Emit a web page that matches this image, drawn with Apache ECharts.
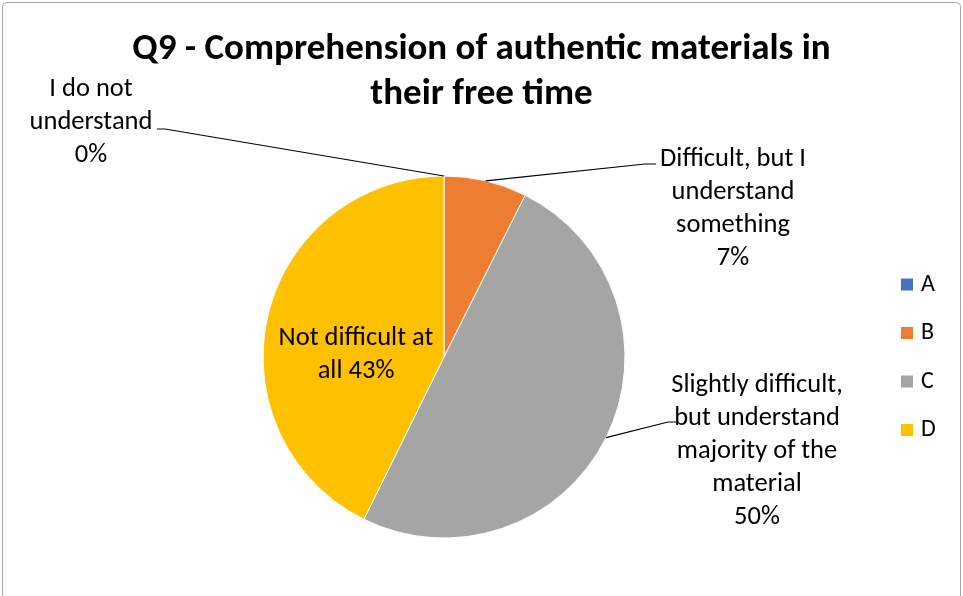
<!DOCTYPE html>
<html>
<head>
<meta charset="utf-8">
<script src="https://cdn.jsdelivr.net/npm/echarts@6/dist/echarts.min.js"></script>
<style>
html,body{margin:0;padding:0;background:#fff;}
#c{width:963px;height:596px;}
</style>
</head>
<body>
<div id="c"></div>
<script>
var categories = ['A', 'B', 'C', 'D'];
var labelNames = ['I do not\nunderstand', 'Difficult, but I\nunderstand\nsomething', 'Slightly difficult,\nbut understand\nmajority of the\nmaterial', 'Not difficult at\nall'];
var values = [0, 7.4, 49.9, 42.7];
var colors = ['#4472C4', '#ED7D31', '#A5A5A5', '#FFC000'];
var titleText = 'Q9 - Comprehension of authentic materials in\ntheir free time';

var FONT = 'Carlito, Lato, "Liberation Sans", sans-serif';
var CENTER = [444, 357];
var RADIUS = 181;
// label layout (positions only)
var labelPos = [
  {x: 91, y: 122},
  {x: 733, y: 209},
  {x: 757, y: 451},
  {x: 356, y: 355}
];
// leader line elbows next to each label: [elbow, end]
var leaderEnds = [
  [[165, 129], [157, 129]],
  [[645, 164], [656, 164]],
  [[668, 422], [678, 422]],
  null
];

var data = categories.map(function (c, i) {
  var d = {name: c, value: values[i], itemStyle: {color: colors[i]}};
  if (i === 3) {
    d.label = {position: 'inside'};
  }
  return d;
});

// leader lines start on the slice bisector at the pie edge (computed from data)
var total = values.reduce(function (a, b) { return a + b; }, 0);
var graphics = [{
  type: 'rect',
  shape: {x: 2.5, y: 2.5, width: 958, height: 620, r: 4},
  style: {fill: 'none', stroke: '#A6A6A6', lineWidth: 1},
  silent: true
}];
var acc = 0;
values.forEach(function (v, i) {
  var mid = (acc + v / 2) / total * Math.PI * 2;
  acc += v;
  if (!leaderEnds[i]) return;
  var sx = CENTER[0] + RADIUS * Math.sin(mid);
  var sy = CENTER[1] - RADIUS * Math.cos(mid);
  graphics.push({
    type: 'polyline',
    shape: {points: [[sx, sy], leaderEnds[i][0], leaderEnds[i][1]]},
    style: {stroke: '#000', lineWidth: 1.2, fill: null},
    silent: true,
    z: 10
  });
});

var chart = echarts.init(document.getElementById('c'), null, {renderer: 'canvas'});
chart.setOption({
  animation: false,
  backgroundColor: '#fff',
  graphic: graphics,
  title: {
    text: titleText,
    left: 'center',
    top: 22,
    textStyle: {fontFamily: FONT, fontSize: 37, fontWeight: 'bold', color: '#000', lineHeight: 45}
  },
  legend: {
    orient: 'vertical',
    left: 899,
    top: 272.5,
    itemWidth: 14,
    itemHeight: 14,
    itemGap: 24.5,
    icon: 'rect',
    padding: 0,
    data: categories,
    textStyle: {fontFamily: FONT, fontSize: 24, color: '#000', lineHeight: 24, padding: [0, 0, 0, 2]}
  },
  series: [{
    type: 'pie',
    center: CENTER,
    radius: RADIUS,
    startAngle: 90,
    clockwise: true,
    data: data,
    itemStyle: {borderColor: '#fff', borderWidth: 1},
    label: {
      show: true,
      position: 'outside',
      fontFamily: FONT,
      fontSize: 26.5,
      lineHeight: 33,
      color: '#000',
      align: 'center',
      formatter: function (p) {
        var pct = Math.round(p.percent) + '%';
        return p.dataIndex === 3 ? labelNames[3] + ' ' + pct : labelNames[p.dataIndex] + '\n' + pct;
      }
    },
    labelLine: {show: false},
    labelLayout: function (p) {
      var lp = labelPos[p.dataIndex];
      return {x: lp.x, y: lp.y, align: 'center', verticalAlign: 'middle'};
    }
  }]
});
</script>
</body>
</html>
